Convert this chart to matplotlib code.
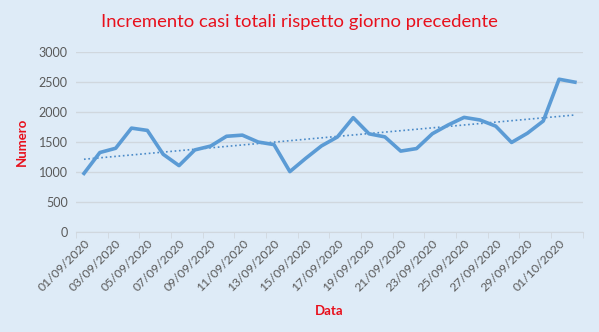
import numpy as np
from matplotlib import pyplot as plt

# dati
date = ["01/09/2020", "02/09/2020", "03/09/2020", "04/09/2020", "05/09/2020",
        "06/09/2020", "07/09/2020", "08/09/2020", "09/09/2020", "10/09/2020",
        "11/09/2020", "12/09/2020", "13/09/2020", "14/09/2020", "15/09/2020",
        "16/09/2020", "17/09/2020", "18/09/2020", "19/09/2020", "20/09/2020",
        "21/09/2020", "22/09/2020", "23/09/2020", "24/09/2020", "25/09/2020",
        "26/09/2020", "27/09/2020", "28/09/2020", "29/09/2020", "30/09/2020",
        "01/10/2020", "02/10/2020"]
incremento = [978, 1326, 1397, 1733, 1695, 1297, 1108, 1370, 1434, 1597,
              1616, 1501, 1458, 1008, 1229, 1437, 1585, 1907, 1638, 1587,
              1350, 1392, 1640, 1786, 1912, 1869, 1766, 1494, 1648, 1851,
              2548, 2499]
y_ticks = [0, 500, 1000, 1500, 2000, 2500, 3000]

bg = "#DEEBF7"
blu = "#5B9BD5"
rosso = "#E8101C"
grigio = "#595959"

plt.rcParams["font.family"] = ["Lato", "DejaVu Sans"]

fig = plt.figure(figsize=(5.99, 3.32), dpi=100, facecolor=bg)
ax = fig.add_axes([0.127, 0.301, 0.846, 0.542], facecolor=bg)

x = np.arange(len(incremento))
ax.plot(x, incremento, color=blu, lw=2.6, solid_joinstyle="round", zorder=3)

# linea di tendenza lineare
m, q = np.polyfit(x, incremento, 1)
ax.plot(x, m * x + q, color="#4A8AC8", lw=1.2, ls=(0, (1, 1.6)), zorder=2)

ax.set_xlim(-0.5, len(x) - 0.5)
ax.set_ylim(0, 3000)
ax.set_yticks(y_ticks)
ax.set_yticklabels([str(v) for v in y_ticks], color=grigio, fontsize=9)
ax.grid(axis="y", color="#D0D7DE", lw=1)
ax.set_axisbelow(True)

ax.set_xticks(x[::2])
ax.set_xticklabels(date[::2], rotation=45, ha="right", rotation_mode="anchor",
                   color=grigio, fontsize=8.8)
ax.tick_params(axis="x", length=0, pad=4)
ax.tick_params(axis="y", length=0, pad=6)
ax.set_xticks(np.arange(-0.5, len(x), 2), minor=True)
ax.tick_params(axis="x", which="minor", length=4, color="#D0D7DE")

for s in ["top", "right", "left"]:
    ax.spines[s].set_visible(False)
ax.spines["bottom"].set_color("#D0D7DE")

ax.set_ylabel("Numero", color=rosso, fontsize=9.5, fontweight="bold", labelpad=8)
ax.set_xlabel("Data", color=rosso, fontsize=9.5, fontweight="bold", labelpad=8)
fig.text(0.5, 0.935, "Incremento casi totali rispetto giorno precedente",
         color=rosso, fontsize=13.3, ha="center", va="center")

fig.savefig("out.png", dpi=100, facecolor=bg)
